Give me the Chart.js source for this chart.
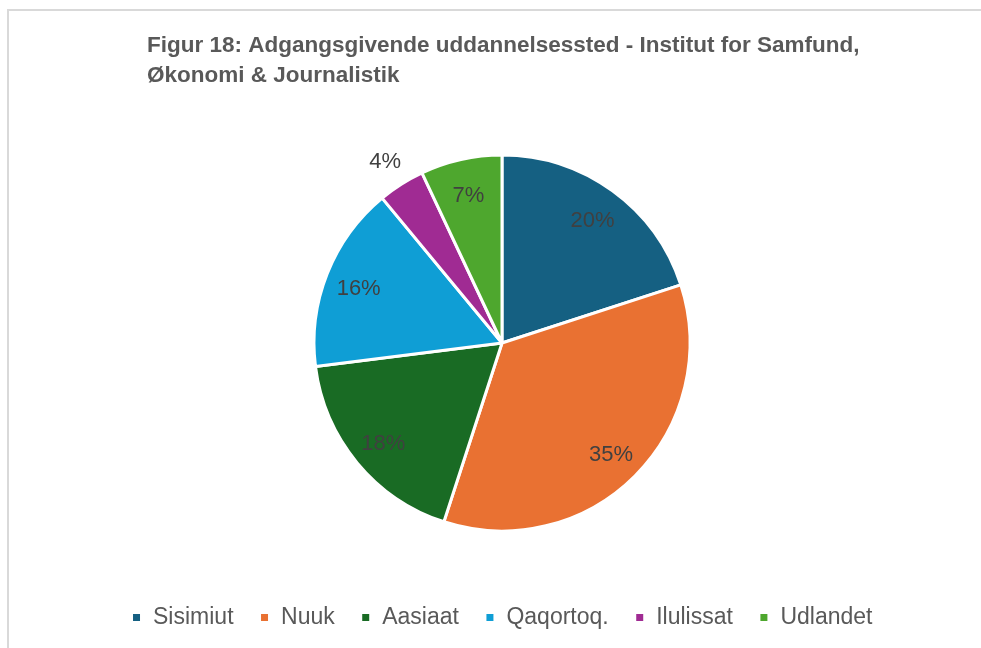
<!DOCTYPE html>
<html>
<head>
<meta charset="utf-8">
<script src="https://cdn.jsdelivr.net/npm/chart.js@4/dist/chart.umd.min.js"></script>
<style>
    html, body { margin: 0; padding: 0; background: #ffffff; }
    #frame {
        position: absolute; left: 7px; top: 9px; width: 990px; height: 660px;
        border-left: 2px solid #d9d9d9; border-top: 2px solid #d9d9d9;
    }
    #wrap { position: absolute; left: 0; top: 0; width: 981px; height: 648px; }
</style>
</head>
<body>
<div id="frame"></div>
<div id="wrap"><canvas id="pie" width="981" height="648"></canvas></div>
<script>
// data
const places = ['Sisimiut', 'Nuuk', 'Aasiaat', 'Qaqortoq.', 'Ilulissat', 'Udlandet'];
const shares = [20, 35, 18, 16, 4, 7];
const sliceColors = ['#156082', '#E97132', '#196B24', '#0F9ED5', '#A02B93', '#4EA72E'];
const titleLines = ['Figur 18: Adgangsgivende uddannelsessted - Institut for Samfund,', 'Økonomi & Journalistik'];

const FONT = '"Liberation Sans", Arial, sans-serif';

// title is left aligned at the plot's left edge, not at the chart's, so draw it by hand
const leftTitle = {
    id: 'leftTitle',
    afterDraw(chart) {
        const ctx = chart.ctx;
        ctx.save();
        ctx.font = 'bold 22.5px ' + FONT;
        ctx.fillStyle = '#595959';
        ctx.textAlign = 'left';
        ctx.textBaseline = 'middle';
        titleLines.forEach((line, i) => ctx.fillText(line, 147, 46 + i * 30));
        ctx.restore();
    }
};

// percent labels: inside the slice, small slices outside
const pctLabels = {
    id: 'pctLabels',
    afterDatasetsDraw(chart) {
        const ctx = chart.ctx;
        const meta = chart.getDatasetMeta(0);
        ctx.save();
        ctx.font = '22px ' + FONT;
        ctx.fillStyle = '#404040';
        ctx.textAlign = 'center';
        ctx.textBaseline = 'middle';
        meta.data.forEach((arc, i) => {
            const p = arc.getProps(['x', 'y', 'startAngle', 'endAngle', 'outerRadius'], true);
            const mid = (p.startAngle + p.endAngle) / 2;
            const r = shares[i] < 5 ? p.outerRadius * 1.16 : p.outerRadius * 0.82;
            ctx.fillText(shares[i] + '%', p.x + Math.cos(mid) * r, p.y + Math.sin(mid) * r + 3);
        });
        ctx.restore();
    }
};

new Chart(document.getElementById('pie').getContext('2d'), {
    type: 'pie',
    data: {
        labels: places,
        datasets: [{
            data: shares,
            backgroundColor: sliceColors,
            borderColor: '#ffffff',
            borderWidth: 3
        }]
    },
    options: {
        responsive: false,
        animation: false,
        radius: 188,
        layout: { padding: { left: 23, right: 0, top: 106, bottom: 9 } },
        plugins: {
            title: { display: false },
            legend: {
                display: true,
                position: 'bottom',
                labels: {
                    boxWidth: 10,
                    boxHeight: 10,
                    padding: 26,
                    color: '#595959',
                    font: { family: FONT, size: 23 }
                }
            },
            tooltip: { enabled: false }
        }
    },
    plugins: [pctLabels, leftTitle]
});
</script>
</body>
</html>
